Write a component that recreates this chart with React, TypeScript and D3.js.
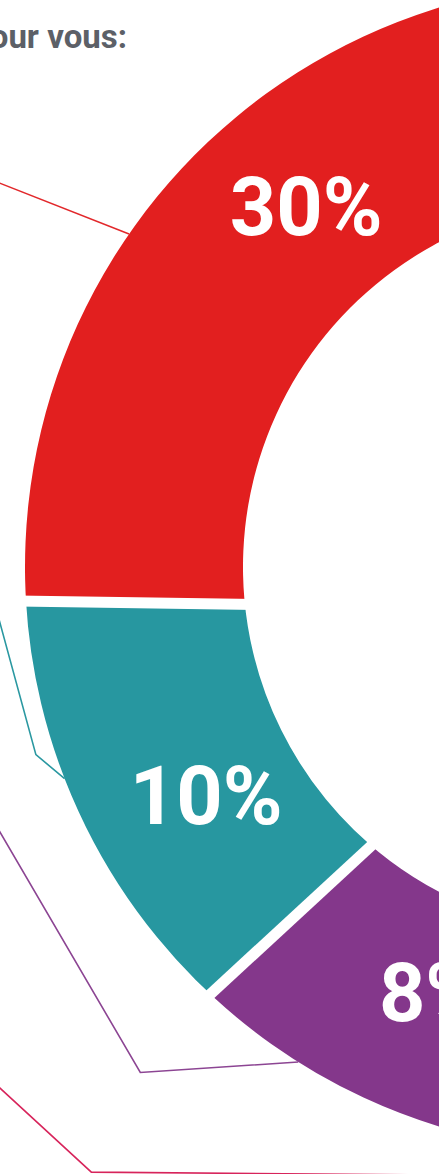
import * as React from "react";
import * as d3 from "d3";

// visible slices, clockwise (purple → teal → red)
const sliceValues = [8, 10, 30]; // printed percentages
// share of the full circle each visible slice takes in the picture (%)
const arcShare = [9.4, 12.1, 30.5];
const sliceColors = ["#84378b", "#2797a0", "#e21f1f"];

const titleText = "pour vous:";

// leader lines running in from the (cropped) labels on the left, as [angle°, radius]
const leaderColors = ["#e2282b", "#2a98a1", "#8c4593", "#d7245b"];
const leaderPolar: [number, number][][] = [
  [[301.3, 784], [304.7, 585]],
  [[271.5, 630], [251.9, 604], [248.8, 585]],
  [[249.9, 671], [222.9, 690], [212.2, 585]],
  [[231.4, 806], [220.6, 797], [192.0, 622]],
];

const W = 439;
const H = 1174;
const CX = 610;
const CY = 567;
const OUTER = 585;
const INNER = 367;
const GAP = 11;
const SKEW = 2.5; // cuts lean a bit: outer end further round than inner end
const START_DEG = 188.0;
const LABEL_R = 467;

const rad = (deg: number) => (deg * Math.PI) / 180;
type Pt = [number, number];

// straight cut through the ring at angle c, stretched a little past both edges
function cutLine(c: number): [Pt, Pt] {
  const a = d3.pointRadial(c - rad(SKEW / 2), INNER) as Pt;
  const b = d3.pointRadial(c + rad(SKEW / 2), OUTER) as Pt;
  const dx = b[0] - a[0];
  const dy = b[1] - a[1];
  return [
    [a[0] - dx * 0.15, a[1] - dy * 0.15],
    [b[0] + dx * 0.15, b[1] + dy * 0.15],
  ];
}

export default function App() {
  const total = d3.sum(arcShare);
  const pie = d3
    .pie<number>()
    .sort(null)
    .value((d) => d)
    .startAngle(rad(START_DEG))
    .endAngle(rad(START_DEG + total * 3.6));
  const arcs = pie(arcShare);

  const arcGen = d3
    .arc<d3.PieArcDatum<number>>()
    .innerRadius(INNER)
    .outerRadius(OUTER)
    .startAngle((d) => d.startAngle - rad(4))
    .endAngle((d) => d.endAngle + rad(4));

  const line = d3.line();

  return (
    <svg
      width={W}
      height={H}
      style={{ position: "absolute", left: 0, top: 0, overflow: "hidden", background: "#fff" }}
    >
      <text
        x={127}
        y={47.5}
        textAnchor="end"
        fontFamily="Roboto, 'Noto Sans', sans-serif"
        fontWeight={700}
        fontSize={33}
        fill="#5c6067"
      >
        {titleText}
      </text>

      <g transform={`translate(${CX},${CY})`}>
        <defs>
          {arcs.map((a, i) => {
            const [loIn, loOut] = cutLine(a.startAngle);
            const [hiIn, hiOut] = cutLine(a.endAngle);
            const far = d3.pointRadial((a.startAngle + a.endAngle) / 2, 3000) as Pt;
            const poly = [loIn, loOut, far, hiOut, hiIn, [0, 0] as Pt];
            return (
              <clipPath key={`clip-${i}`} id={`slice-clip-${i}`}>
                <path d={(line(poly) ?? "") + "Z"} />
              </clipPath>
            );
          })}
        </defs>

        {/* leader lines */}
        {leaderPolar.map((pts, i) => (
          <path
            key={`ld-${i}`}
            d={line(pts.map(([a, r]) => d3.pointRadial(rad(a), r) as Pt)) ?? ""}
            fill="none"
            stroke={leaderColors[i]}
            strokeWidth={1.6}
            strokeLinejoin="miter"
          />
        ))}

        {/* slices */}
        {arcs.map((a, i) => (
          <path
            key={`arc-${i}`}
            d={arcGen(a) ?? ""}
            fill={sliceColors[i]}
            clipPath={`url(#slice-clip-${i})`}
          />
        ))}

        {/* white cuts between slices */}
        {arcs.slice(1).map((a, i) => (
          <path
            key={`cut-${i}`}
            d={line(cutLine(a.startAngle)) ?? ""}
            stroke="#fff"
            strokeWidth={GAP}
          />
        ))}

        {/* percentages, centred on the value's own share from the slice start */}
        {arcs.map((a, i) => {
          const ang = a.startAngle + rad((sliceValues[i] * 3.6) / 2);
          const [x, y] = d3.pointRadial(ang, LABEL_R);
          return (
            <text
              key={`lb-${i}`}
              x={x}
              y={y}
              dy="0.28em"
              textAnchor="middle"
              fontFamily="Roboto, 'Noto Sans', sans-serif"
              fontWeight={700}
              fontSize={81}
              fill="#fff"
            >
              {`${sliceValues[i]}%`}
            </text>
          );
        })}
      </g>
    </svg>
  );
}
